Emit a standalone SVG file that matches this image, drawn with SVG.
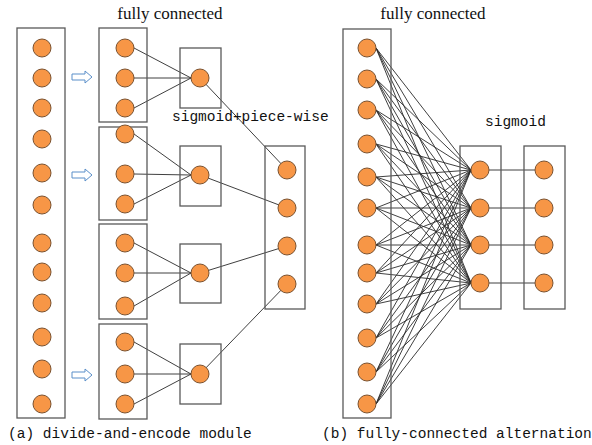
<svg xmlns="http://www.w3.org/2000/svg" width="592" height="445" viewBox="0 0 592 445">
<style>
.box{fill:none;stroke:#595959;stroke-width:1.3}
.n{fill:#F79646;stroke:#7a5230;stroke-width:1}
.c{fill:none;stroke:#2a2a2a;stroke-width:0.9}
.arr{fill:#fff;stroke:#5b8fc9;stroke-width:1}
.serif{font-family:"Liberation Serif","Times New Roman",serif;font-size:17px;fill:#111}
.mono{font-family:"Liberation Mono","Courier New",monospace;font-size:14.5px;fill:#111}
</style>
<defs>
<circle id="dot" r="9" class="n"/>
<path id="arrow" class="arr" d="M0 -3 H13 V-6 L20 0 L13 6 V3 H0 Z"/>
</defs>
<rect width="592" height="445" fill="#fff"/>

<!-- connectors -->
<g id="connectors">
<!-- (a) group to hidden -->
<path class="c" d="M134 48L191 78M134 78L191 78M134 108L191 78"/>
<path class="c" d="M134 134L191 175M134 174L191 175M134 204L191 175"/>
<path class="c" d="M134 243L191 273M134 273L191 273M134 306L191 273"/>
<path class="c" d="M134 342L191 374M134 374L191 374M134 404L191 374"/>
<!-- (a) hidden to output -->
<path class="c" d="M200 78L287 170M200 175L287 208M200 273L287 246M200 374L287 284"/>
<!-- (b) full connections -->
<path class="c" d="M376 48L471 170M376 48L471 208M376 48L471 245M376 48L471 283"/>
<path class="c" d="M376 79L471 170M376 79L471 208M376 79L471 245M376 79L471 283"/>
<path class="c" d="M376 110L471 170M376 110L471 208M376 110L471 245M376 110L471 283"/>
<path class="c" d="M376 144L471 170M376 144L471 208M376 144L471 245M376 144L471 283"/>
<path class="c" d="M376 177L471 170M376 177L471 208M376 177L471 245M376 177L471 283"/>
<path class="c" d="M376 208L471 170M376 208L471 208M376 208L471 245M376 208L471 283"/>
<path class="c" d="M376 245L471 170M376 245L471 208M376 245L471 245M376 245L471 283"/>
<path class="c" d="M376 273L471 170M376 273L471 208M376 273L471 245M376 273L471 283"/>
<path class="c" d="M376 304L471 170M376 304L471 208M376 304L471 245M376 304L471 283"/>
<path class="c" d="M376 338L471 170M376 338L471 208M376 338L471 245M376 338L471 283"/>
<path class="c" d="M376 372L471 170M376 372L471 208M376 372L471 245M376 372L471 283"/>
<path class="c" d="M376 404L471 170M376 404L471 208M376 404L471 245M376 404L471 283"/>
<!-- (b) hidden to output -->
<path class="c" d="M489 170H535M489 208H535M489 245H535M489 283H535"/>
</g>

<!-- (a) input column -->
<g id="a-input">
<rect class="box" x="17" y="28" width="48" height="390"/>
<use href="#dot" x="42" y="48"/><use href="#dot" x="42" y="78"/><use href="#dot" x="42" y="108"/>
<use href="#dot" x="42" y="139"/><use href="#dot" x="42" y="173"/><use href="#dot" x="42" y="205"/>
<use href="#dot" x="42" y="243"/><use href="#dot" x="42" y="272"/><use href="#dot" x="42" y="303"/>
<use href="#dot" x="42" y="337"/><use href="#dot" x="42" y="369"/><use href="#dot" x="42" y="404"/>
</g>
<g id="a-arrows">
<use href="#arrow" x="72" y="77"/>
<use href="#arrow" x="72" y="175"/>
<use href="#arrow" x="72" y="375"/>
</g>

<!-- (a) groups -->
<g id="a-group1">
<rect class="box" x="99" y="28" width="48" height="94"/>
<use href="#dot" x="125" y="48"/><use href="#dot" x="125" y="78"/><use href="#dot" x="125" y="108"/>
</g>
<g id="a-group2">
<rect class="box" x="99" y="127" width="48" height="93"/>
<use href="#dot" x="125" y="134"/><use href="#dot" x="125" y="174"/><use href="#dot" x="125" y="204"/>
</g>
<g id="a-group3">
<rect class="box" x="99" y="224" width="48" height="95"/>
<use href="#dot" x="125" y="243"/><use href="#dot" x="125" y="273"/><use href="#dot" x="125" y="306"/>
</g>
<g id="a-group4">
<rect class="box" x="99" y="324" width="48" height="95"/>
<use href="#dot" x="125" y="342"/><use href="#dot" x="125" y="374"/><use href="#dot" x="125" y="404"/>
</g>

<!-- (a) hidden units -->
<g id="a-hidden1"><rect class="box" x="180" y="48" width="41" height="60"/><use href="#dot" x="200" y="78"/></g>
<g id="a-hidden2"><rect class="box" x="180" y="146" width="41" height="60"/><use href="#dot" x="200" y="175"/></g>
<g id="a-hidden3"><rect class="box" x="180" y="244" width="41" height="59"/><use href="#dot" x="200" y="273"/></g>
<g id="a-hidden4"><rect class="box" x="180" y="344" width="41" height="60"/><use href="#dot" x="200" y="374"/></g>

<!-- (a) output -->
<g id="a-output">
<rect class="box" x="265" y="146" width="40" height="163"/>
<use href="#dot" x="287" y="170"/><use href="#dot" x="287" y="208"/><use href="#dot" x="287" y="246"/><use href="#dot" x="287" y="284"/>
</g>

<!-- (b) input -->
<g id="b-input">
<rect class="box" x="343" y="29" width="48" height="389"/>
<use href="#dot" x="367" y="48"/><use href="#dot" x="367" y="79"/><use href="#dot" x="367" y="110"/>
<use href="#dot" x="367" y="144"/><use href="#dot" x="367" y="177"/><use href="#dot" x="367" y="208"/>
<use href="#dot" x="367" y="245"/><use href="#dot" x="367" y="273"/><use href="#dot" x="367" y="304"/>
<use href="#dot" x="367" y="338"/><use href="#dot" x="367" y="372"/><use href="#dot" x="367" y="404"/>
</g>
<g id="b-hidden">
<rect class="box" x="460" y="146" width="41" height="163"/>
<use href="#dot" x="480" y="170"/><use href="#dot" x="480" y="208"/><use href="#dot" x="480" y="245"/><use href="#dot" x="480" y="283"/>
</g>
<g id="b-output">
<rect class="box" x="524" y="146" width="41" height="163"/>
<use href="#dot" x="544" y="170"/><use href="#dot" x="544" y="208"/><use href="#dot" x="544" y="245"/><use href="#dot" x="544" y="283"/>
</g>

<!-- labels -->
<g id="labels">
<text class="serif" x="170" y="19" text-anchor="middle">fully connected</text>
<text class="serif" x="433" y="19" text-anchor="middle">fully connected</text>
<text class="mono" x="172" y="121">sigmoid+piece-wise</text>
<text class="mono" x="485" y="126">sigmoid</text>
<text class="mono" x="8" y="438">(a) divide-and-encode module</text>
<text class="mono" x="322" y="438">(b) fully-connected alternation</text>
</g>
</svg>
